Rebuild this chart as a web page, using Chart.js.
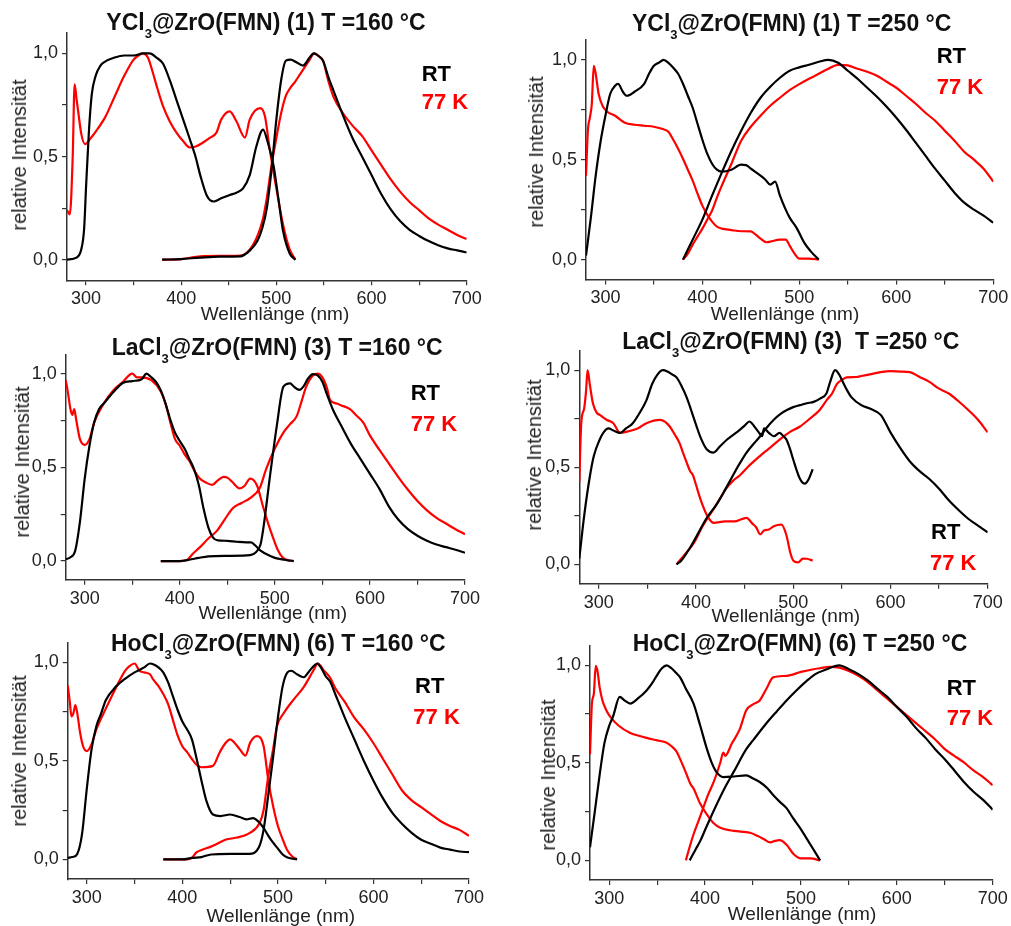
<!DOCTYPE html>
<html lang="de">
<head>
<meta charset="utf-8">
<title>Anregungs- und Emissionsspektren</title>
<script src="https://cdn.jsdelivr.net/npm/chart.js@4.4.1/dist/chart.umd.min.js"></script>
<style>
  html, body { margin: 0; padding: 0; background: #fff; }
  #page { position: relative; width: 1011px; height: 926px; overflow: hidden; font-family: "Liberation Sans", Arial, sans-serif; }
  #page canvas { position: absolute; }
  .lbl { position: absolute; white-space: nowrap; line-height: 1; }
  .title { font-weight: bold; font-size: 23px; color: #111; transform: translate(-50%, -50%); }
  .title .sub { font-size: 13px; position: relative; top: 8px; }
  .ytitle { font-size: 20px; color: #222; transform: translate(-50%, -50%) rotate(-90deg); }
  .xtitle { font-size: 19px; color: #222; transform: translate(-50%, -50%); }
  .leg { font-weight: bold; font-size: 22px; transform: translateY(-50%); }
</style>
</head>
<body>
<div id="page"></div>
<script>
// Achsen
const xTickValues = [300, 350, 400, 450, 500, 550, 600, 650, 700];
const yTickValues = [0, 0.25, 0.5, 0.75, 1.0];

// YCl3@ZrO(FMN) (1) T = 160 °C  -> [Wellenlänge nm, rel. Intensität]
const ycl160ExRT = [[280,0],[290,0.01],[295,0.05],[298,0.15],[300,0.35],[303,0.62],[306,0.8],[310,0.89],[315,0.94],[320,0.96],[330,0.98],[340,0.99],[350,0.99],[360,1.0],[367,1.0],[374,0.98],[381,0.95],[388,0.87],[395,0.775],[402,0.68],[409,0.585],[415,0.5],[420,0.41],[427,0.31],[434,0.282],[441,0.295],[451,0.314],[458,0.325],[465,0.346],[472,0.41],[479,0.55],[486,0.631],[491,0.568],[497,0.457],[502,0.3],[507,0.14],[514,0.03],[520,0]];
const ycl160Ex77 = [[280,0.24],[283,0.22],[286,0.5],[288,0.85],[290,0.78],[292,0.71],[295,0.61],[299,0.56],[305,0.59],[310,0.62],[320,0.69],[330,0.79],[340,0.89],[350,0.97],[355,0.99],[360,1.0],[365,0.98],[370,0.91],[375,0.83],[381,0.743],[388,0.67],[395,0.616],[402,0.575],[409,0.544],[416,0.55],[423,0.568],[430,0.59],[437,0.616],[442,0.679],[451,0.719],[458,0.671],[467,0.592],[472,0.679],[483,0.735],[488,0.695],[493,0.536],[500,0.346],[507,0.171],[514,0.05],[520,0]];
const ycl160EmRT = [[380,0],[400,0.003],[420,0.01],[440,0.015],[462,0.016],[472,0.044],[480,0.09],[485,0.15],[490,0.25],[495,0.44],[500,0.68],[505,0.87],[510,0.965],[515,0.97],[521,0.957],[528,0.941],[535,0.98],[539,1.0],[545,0.985],[549,0.965],[555,0.88],[560,0.82],[570,0.7],[580,0.59],[590,0.5],[600,0.41],[610,0.32],[620,0.245],[630,0.187],[640,0.145],[650,0.115],[660,0.09],[670,0.07],[680,0.055],[690,0.045],[700,0.035]];
const ycl160Em77 = [[380,0],[400,0.003],[420,0.016],[440,0.018],[462,0.02],[476,0.076],[486,0.2],[490,0.3],[495,0.46],[500,0.59],[505,0.71],[510,0.795],[515,0.835],[520,0.865],[525,0.9],[530,0.935],[535,0.97],[540,1.0],[545,0.985],[549,0.965],[555,0.86],[560,0.79],[570,0.71],[580,0.65],[590,0.6],[600,0.53],[610,0.46],[620,0.39],[630,0.33],[640,0.28],[650,0.24],[660,0.2],[670,0.17],[680,0.145],[690,0.12],[700,0.1]];

// YCl3@ZrO(FMN) (1) T = 250 °C
const ycl250ExRT = [[280,0.02],[285,0.21],[290,0.42],[295,0.59],[300,0.72],[305,0.83],[310,0.87],[313,0.88],[318,0.84],[322,0.82],[330,0.84],[340,0.88],[345,0.93],[350,0.97],[355,0.985],[360,1.0],[365,0.985],[370,0.96],[375,0.93],[380,0.88],[385,0.82],[390,0.76],[395,0.68],[400,0.6],[405,0.53],[410,0.48],[415,0.45],[420,0.44],[430,0.45],[440,0.475],[445,0.473],[450,0.455],[460,0.42],[465,0.4],[470,0.375],[475,0.39],[480,0.32],[485,0.26],[490,0.21],[497,0.16],[505,0.085],[512,0.04],[520,0]];
const ycl250Ex77 = [[280,0.42],[282,0.65],[284,0.71],[286,0.78],[288,0.97],[290,0.93],[293,0.83],[297,0.77],[302,0.74],[310,0.72],[320,0.685],[330,0.675],[340,0.67],[350,0.665],[360,0.652],[365,0.64],[370,0.6],[375,0.555],[380,0.505],[385,0.45],[390,0.395],[395,0.33],[400,0.27],[405,0.225],[410,0.19],[415,0.165],[420,0.155],[430,0.148],[440,0.142],[450,0.141],[455,0.125],[460,0.105],[466,0.087],[470,0.09],[480,0.1],[486,0.1],[490,0.07],[495,0.03],[500,0.005],[510,0.005],[520,0]];
const ycl250EmRT = [[380,0],[390,0.1],[400,0.2],[410,0.32],[420,0.435],[430,0.545],[440,0.645],[450,0.735],[460,0.81],[470,0.865],[480,0.91],[490,0.945],[500,0.962],[510,0.975],[520,0.99],[530,1.0],[540,0.985],[550,0.945],[560,0.905],[570,0.86],[580,0.815],[590,0.765],[600,0.71],[610,0.65],[620,0.585],[630,0.52],[640,0.455],[650,0.395],[660,0.335],[670,0.285],[680,0.25],[690,0.22],[700,0.185]];
const ycl250Em77 = [[380,0],[385,0.03],[390,0.075],[395,0.115],[400,0.155],[405,0.2],[410,0.245],[415,0.31],[420,0.37],[430,0.48],[440,0.595],[450,0.665],[460,0.72],[470,0.77],[480,0.81],[490,0.848],[500,0.878],[510,0.905],[520,0.93],[530,0.955],[540,0.975],[550,0.972],[560,0.955],[570,0.94],[580,0.92],[590,0.89],[600,0.86],[610,0.82],[620,0.78],[630,0.735],[640,0.695],[650,0.645],[660,0.595],[670,0.54],[680,0.5],[690,0.455],[700,0.39]];

// LaCl3@ZrO(FMN) (3) T = 160 °C
const lacl160ExRT = [[280,0.01],[285,0.02],[290,0.055],[295,0.21],[300,0.44],[305,0.615],[310,0.74],[315,0.81],[320,0.84],[330,0.9],[340,0.95],[350,0.96],[360,0.97],[365,1.0],[370,0.98],[375,0.955],[380,0.91],[385,0.84],[390,0.755],[395,0.685],[400,0.64],[405,0.6],[410,0.545],[415,0.49],[420,0.405],[425,0.28],[430,0.18],[435,0.125],[440,0.11],[450,0.108],[460,0.103],[470,0.1],[475,0.1],[480,0.08],[485,0.055],[490,0.04],[500,0.017],[510,0.007],[520,0]];
const lacl160Ex77 = [[280,0.965],[282,0.91],[285,0.81],[287,0.78],[289,0.81],[291,0.755],[295,0.65],[300,0.62],[305,0.65],[310,0.74],[320,0.84],[330,0.91],[340,0.955],[350,1.0],[355,0.98],[360,0.98],[370,0.965],[380,0.905],[385,0.84],[390,0.74],[395,0.65],[400,0.615],[405,0.57],[410,0.535],[415,0.485],[421,0.44],[427,0.42],[434,0.406],[440,0.43],[446,0.449],[450,0.445],[455,0.423],[463,0.388],[468,0.4],[474,0.44],[481,0.406],[488,0.283],[493,0.2],[498,0.126],[503,0.06],[508,0.02],[516,0]];
const lacl160EmRT = [[380,0],[400,0],[410,0.007],[420,0.017],[430,0.025],[450,0.028],[470,0.03],[480,0.047],[485,0.09],[488,0.178],[495,0.458],[502,0.72],[509,0.93],[516,0.948],[520,0.93],[526,0.913],[530,0.93],[535,0.974],[540,0.997],[545,0.99],[550,0.956],[555,0.886],[561,0.808],[570,0.72],[580,0.625],[590,0.545],[600,0.465],[610,0.385],[620,0.29],[630,0.22],[640,0.17],[650,0.135],[660,0.108],[670,0.088],[680,0.074],[690,0.06],[700,0.044]];
const lacl160Em77 = [[380,0],[400,0],[407,0.004],[414,0.04],[421,0.073],[430,0.12],[439,0.161],[447,0.22],[456,0.283],[465,0.31],[474,0.336],[484,0.388],[491,0.493],[500,0.6],[509,0.685],[516,0.73],[523,0.773],[528,0.85],[533,0.93],[540,0.99],[545,1.0],[550,0.98],[555,0.92],[558,0.86],[565,0.84],[570,0.83],[579,0.81],[585,0.78],[593,0.738],[600,0.67],[614,0.563],[620,0.52],[631,0.44],[640,0.38],[650,0.32],[660,0.27],[670,0.23],[680,0.2],[690,0.17],[700,0.143]];

// LaCl3@ZrO(FMN) (3) T = 250 °C
const lacl250ExRT = [[280,0.03],[285,0.25],[291,0.458],[295,0.56],[301,0.643],[305,0.68],[310,0.7],[315,0.69],[322,0.677],[328,0.7],[335,0.727],[342,0.78],[349,0.845],[355,0.93],[360,0.975],[366,1.0],[370,0.995],[375,0.98],[380,0.963],[385,0.92],[390,0.865],[395,0.795],[400,0.72],[405,0.65],[411,0.593],[418,0.576],[425,0.61],[432,0.643],[445,0.693],[450,0.715],[455,0.736],[460,0.71],[465,0.677],[468,0.66],[470,0.7],[475,0.677],[480,0.66],[486,0.677],[490,0.66],[493,0.643],[497,0.59],[500,0.54],[507,0.44],[512,0.416],[516,0.44],[520,0.49]];
const lacl250Ex77 = [[280,0.424],[282,0.727],[285,0.803],[287,0.896],[288.5,1.0],[291,0.92],[294,0.83],[298,0.78],[301,0.77],[308,0.745],[315,0.727],[322,0.677],[330,0.685],[340,0.7],[349,0.727],[363,0.744],[368,0.735],[373,0.71],[378,0.67],[383,0.626],[387,0.57],[390,0.53],[394,0.48],[397,0.458],[400,0.41],[405,0.33],[411,0.256],[415,0.225],[418,0.214],[430,0.222],[440,0.222],[452,0.24],[458,0.21],[462,0.19],[466,0.155],[470,0.175],[475,0.18],[480,0.197],[488,0.205],[493,0.15],[497,0.06],[500,0.02],[505,0.01],[510,0.03],[514,0.029],[520,0.02]];
const lacl250EmRT = [[380,0],[385,0.02],[394,0.087],[400,0.14],[411,0.239],[420,0.3],[425,0.34],[430,0.385],[438,0.458],[445,0.52],[452,0.576],[460,0.625],[466,0.66],[472,0.7],[480,0.745],[487,0.775],[493,0.794],[500,0.81],[507,0.82],[514,0.83],[521,0.837],[528,0.855],[534,0.879],[538,0.94],[543,1.0],[547,0.98],[550,0.95],[555,0.9],[560,0.86],[570,0.82],[580,0.8],[590,0.77],[600,0.68],[610,0.6],[620,0.53],[630,0.48],[640,0.44],[650,0.39],[660,0.33],[670,0.28],[680,0.235],[690,0.2],[700,0.165]];
const lacl250Em77 = [[380,0],[390,0.06],[397,0.104],[400,0.13],[405,0.18],[413,0.247],[420,0.3],[431,0.39],[438,0.43],[445,0.458],[455,0.51],[466,0.559],[476,0.6],[486,0.643],[496,0.68],[507,0.71],[517,0.75],[527,0.794],[535,0.85],[540,0.88],[545,0.93],[550,0.95],[555,0.963],[565,0.965],[570,0.97],[580,0.98],[590,0.99],[600,0.995],[610,0.993],[620,0.99],[630,0.965],[640,0.94],[650,0.905],[660,0.88],[670,0.84],[680,0.795],[690,0.745],[700,0.68]];

// HoCl3@ZrO(FMN) (6) T = 160 °C
const hocl160ExRT = [[280,0.008],[285,0.012],[290,0.028],[295,0.128],[300,0.36],[305,0.56],[310,0.676],[315,0.742],[320,0.81],[330,0.875],[340,0.917],[350,0.95],[360,0.975],[366,0.995],[370,0.99],[375,0.975],[380,0.95],[385,0.9],[390,0.83],[395,0.76],[400,0.7],[405,0.66],[410,0.61],[415,0.51],[420,0.4],[425,0.3],[432,0.228],[440,0.22],[450,0.228],[460,0.215],[467,0.203],[474,0.21],[480,0.19],[485,0.16],[490,0.12],[495,0.085],[499,0.061],[505,0.025],[510,0.01],[520,0]];
const hocl160Ex77 = [[280,0.884],[282,0.81],[284,0.726],[286,0.743],[288,0.784],[290,0.743],[293,0.643],[296,0.576],[300,0.55],[305,0.585],[310,0.66],[320,0.767],[330,0.867],[340,0.958],[345,0.983],[350,0.995],[355,0.958],[360,0.95],[366,0.94],[370,0.91],[375,0.88],[380,0.84],[385,0.79],[390,0.71],[395,0.63],[400,0.575],[405,0.545],[410,0.51],[415,0.48],[420,0.468],[432,0.475],[439,0.543],[445,0.59],[450,0.61],[455,0.59],[460,0.56],[466,0.527],[471,0.593],[478,0.626],[485,0.576],[490,0.4],[495,0.27],[500,0.17],[506,0.09],[510,0.045],[515,0.015],[520,0]];
const hocl160EmRT = [[380,0],[400,0],[410,0.008],[420,0.012],[430,0.025],[450,0.028],[470,0.028],[480,0.06],[485,0.15],[490,0.33],[495,0.52],[500,0.72],[505,0.88],[510,0.95],[514,0.958],[520,0.94],[527,0.925],[532,0.95],[537,0.98],[541,0.995],[545,0.975],[550,0.93],[555,0.9],[560,0.84],[570,0.72],[580,0.61],[590,0.5],[600,0.4],[610,0.31],[620,0.235],[630,0.18],[640,0.135],[650,0.1],[660,0.08],[670,0.06],[680,0.05],[690,0.04],[700,0.037]];
const hocl160Em77 = [[380,0],[405,0],[410,0.008],[415,0.037],[420,0.048],[430,0.065],[436,0.078],[445,0.1],[457,0.111],[471,0.136],[481,0.186],[485,0.25],[490,0.427],[495,0.56],[499,0.676],[506,0.742],[516,0.809],[527,0.875],[537,0.958],[542,0.995],[548,0.96],[555,0.92],[560,0.87],[570,0.8],[580,0.72],[590,0.66],[600,0.59],[610,0.51],[620,0.43],[630,0.35],[640,0.3],[650,0.265],[660,0.23],[670,0.195],[680,0.17],[690,0.15],[700,0.12]];

// HoCl3@ZrO(FMN) (6) T = 250 °C
const hocl250ExRT = [[280,0.067],[285,0.25],[290,0.436],[295,0.6],[300,0.69],[304,0.737],[311,0.838],[316,0.82],[322,0.804],[330,0.83],[339,0.871],[345,0.91],[350,0.95],[355,0.985],[360,1.0],[365,0.985],[370,0.96],[374,0.938],[380,0.88],[388,0.804],[395,0.69],[402,0.57],[407,0.5],[412,0.452],[419,0.427],[430,0.43],[443,0.436],[450,0.42],[457,0.402],[465,0.37],[471,0.335],[478,0.3],[485,0.268],[492,0.215],[499,0.167],[510,0.08],[520,0]];
const hocl250Ex77 = [[280,0.544],[282,0.804],[284,0.854],[286,0.997],[288,0.965],[290,0.888],[293,0.82],[297,0.77],[301,0.737],[310,0.69],[322,0.653],[330,0.64],[339,0.628],[350,0.615],[360,0.603],[365,0.585],[370,0.56],[374,0.519],[380,0.45],[385,0.39],[388,0.368],[395,0.29],[402,0.235],[409,0.19],[416,0.167],[430,0.151],[447,0.142],[455,0.125],[461,0.11],[468,0.092],[473,0.1],[478,0.104],[485,0.08],[492,0.034],[500,0.01],[510,0.01],[520,0]];
const hocl250EmRT = [[384,0],[390,0.055],[395,0.1],[401,0.167],[410,0.265],[422,0.385],[430,0.455],[443,0.57],[450,0.615],[464,0.703],[475,0.765],[485,0.82],[495,0.87],[506,0.92],[515,0.955],[527,0.98],[535,0.995],[540,1.0],[550,0.98],[560,0.955],[570,0.921],[580,0.879],[590,0.838],[600,0.787],[610,0.737],[620,0.678],[630,0.628],[640,0.57],[650,0.519],[660,0.461],[670,0.402],[680,0.352],[690,0.31],[700,0.26]];
const hocl250Em77 = [[380,0],[384,0.07],[388,0.134],[393,0.2],[398,0.268],[403,0.335],[409,0.402],[416,0.503],[419,0.553],[421,0.536],[428,0.6],[436,0.67],[443,0.77],[450,0.8],[457,0.82],[464,0.88],[471,0.938],[485,0.946],[500,0.966],[513,0.98],[520,0.985],[530,0.992],[540,0.988],[550,0.971],[560,0.946],[570,0.913],[580,0.871],[590,0.829],[600,0.787],[610,0.745],[620,0.704],[630,0.662],[640,0.62],[650,0.57],[660,0.536],[670,0.502],[680,0.461],[690,0.427],[700,0.385]];

// Lage der Diagramme (Plotfläche in Seitenpixeln) und Beschriftungen
const panels = [
  { name: 'Y', cmp: '(1)', temp: 'T =160 °C', L: 67, R: 466.7, T: 28.3, B: 280.3,
    series: [ycl160ExRT, ycl160EmRT, ycl160Ex77, ycl160Em77],
    title: [266, 21.5], ytitle: [18.8, 154.5], xtitle: [275, 312.5], rt: [421.7, 74], k77: [421.7, 102.3] },
  { name: 'Y', cmp: '(1)', temp: 'T =250 °C', L: 586, R: 993.3, T: 35.7, B: 279.6,
    series: [ycl250ExRT, ycl250EmRT, ycl250Ex77, ycl250Em77],
    title: [791.7, 23.3], ytitle: [535.8, 151.7], xtitle: [785, 312.5], rt: [936.7, 56], k77: [936.7, 87.3] },
  { name: 'La', cmp: '(3)', temp: 'T =160 °C', L: 65.7, R: 465, T: 350.9, B: 579.8,
    series: [lacl160ExRT, lacl160EmRT, lacl160Ex77, lacl160Em77],
    title: [277.2, 346.7], ytitle: [22, 461.7], xtitle: [272.7, 612], rt: [410.7, 392.7], k77: [410.7, 424] },
  { name: 'La', cmp: '(3)\u00a0', temp: 'T =250 °C', L: 579.3, R: 987.7, T: 346.2, B: 583.8,
    series: [lacl250ExRT, lacl250EmRT, lacl250Ex77, lacl250Em77],
    title: [790.8, 341], ytitle: [534, 455], xtitle: [785.8, 615], rt: [931, 531.7], k77: [930, 563.3] },
  { name: 'Ho', cmp: '(6)', temp: 'T =160 °C', L: 67.7, R: 469, T: 638.2, B: 879.1,
    series: [hocl160ExRT, hocl160EmRT, hocl160Ex77, hocl160Em77],
    title: [278.3, 642.8], ytitle: [19, 750.8], xtitle: [280.8, 915], rt: [415, 686], k77: [413.3, 716.7] },
  { name: 'Ho', cmp: '(6)', temp: 'T =250 °C', L: 590, R: 992.7, T: 641.1, B: 879.9,
    series: [hocl250ExRT, hocl250EmRT, hocl250Ex77, hocl250Em77],
    title: [800, 643.3], ytitle: [547.5, 775], xtitle: [802, 913.3], rt: [946.7, 688.3], k77: [946.7, 718.3] }
];

const FONT = '"Liberation Sans", Arial, sans-serif';
const page = document.getElementById('page');

function addLabel(cls, html, pos, color) {
  const el = document.createElement('div');
  el.className = 'lbl ' + cls;
  el.innerHTML = html;
  el.style.left = pos[0] + 'px';
  el.style.top = pos[1] + 'px';
  if (color) el.style.color = color;
  page.appendChild(el);
}

const toXY = arr => arr.map(([x, y]) => ({ x: x, y: y }));

function makePanel(p) {
  // Canvas so groß, dass Tick-Beschriftungen hineinpassen
  const cl = Math.floor(p.L) - 50, ct = Math.floor(p.T) - 10;
  const cw = Math.ceil(p.R) + 25 - cl, ch = Math.ceil(p.B) + 32 - ct;
  const canvas = document.createElement('canvas');
  canvas.width = cw; canvas.height = ch;
  canvas.style.left = cl + 'px'; canvas.style.top = ct + 'px';
  canvas.style.width = cw + 'px'; canvas.style.height = ch + 'px';
  page.appendChild(canvas);

  const line = (label, data, color) => ({
    label: label, data: toXY(data), borderColor: color, backgroundColor: color,
    borderWidth: 2.2, pointRadius: 0, fill: false, cubicInterpolationMode: 'monotone'
  });

  new Chart(canvas.getContext('2d'), {
    type: 'line',
    data: {
      datasets: [
        line('Anregung RT', p.series[0], '#000000'),
        line('Emission RT', p.series[1], '#000000'),
        line('Anregung 77 K', p.series[2], '#ff0000'),
        line('Emission 77 K', p.series[3], '#ff0000')
      ]
    },
    options: {
      responsive: false,
      animation: false,
      layout: {
        padding: { left: p.L - cl - 50, top: p.T - ct, right: cl + cw - p.R, bottom: ct + ch - p.B - 32 }
      },
      plugins: { legend: { display: false }, tooltip: { enabled: false } },
      scales: {
        x: {
          type: 'linear', min: 280, max: 700,
          afterBuildTicks: s => { s.ticks = xTickValues.map(v => ({ value: v })); },
          afterFit: s => { s.height = 32; },
          ticks: {
            autoSkip: false, maxRotation: 0, padding: 3, color: '#222',
            font: { family: FONT, size: 18 },
            callback: v => (v % 100 === 0 ? String(v) : '')
          },
          grid: { drawOnChartArea: false, drawTicks: true, tickLength: 5, color: '#333', lineWidth: 1.2 },
          border: { display: true, color: '#333', width: 1.5 }
        },
        y: {
          type: 'linear', min: -0.1, max: 1.1,
          afterBuildTicks: s => { s.ticks = yTickValues.map(v => ({ value: v })); },
          afterFit: s => { s.width = 50; },
          ticks: {
            autoSkip: false, padding: 4, color: '#222',
            font: { family: FONT, size: 18 },
            callback: v => ((v * 2) % 1 === 0 ? v.toFixed(1).replace('.', ',') : '')
          },
          grid: { drawOnChartArea: false, drawTicks: true, tickLength: 5, color: '#333', lineWidth: 1.2 },
          border: { display: true, color: '#333', width: 1.5 }
        }
      }
    }
  });

  addLabel('title', p.name + 'Cl<span class="sub">3</span>@ZrO(FMN) ' + p.cmp + ' ' + p.temp, p.title);
  addLabel('ytitle', 'relative Intensität', p.ytitle);
  addLabel('xtitle', 'Wellenlänge (nm)', p.xtitle);
  addLabel('leg', 'RT', p.rt, '#000');
  addLabel('leg', '77 K', p.k77, '#ff0000');
}

panels.forEach(makePanel);
</script>
</body>
</html>
